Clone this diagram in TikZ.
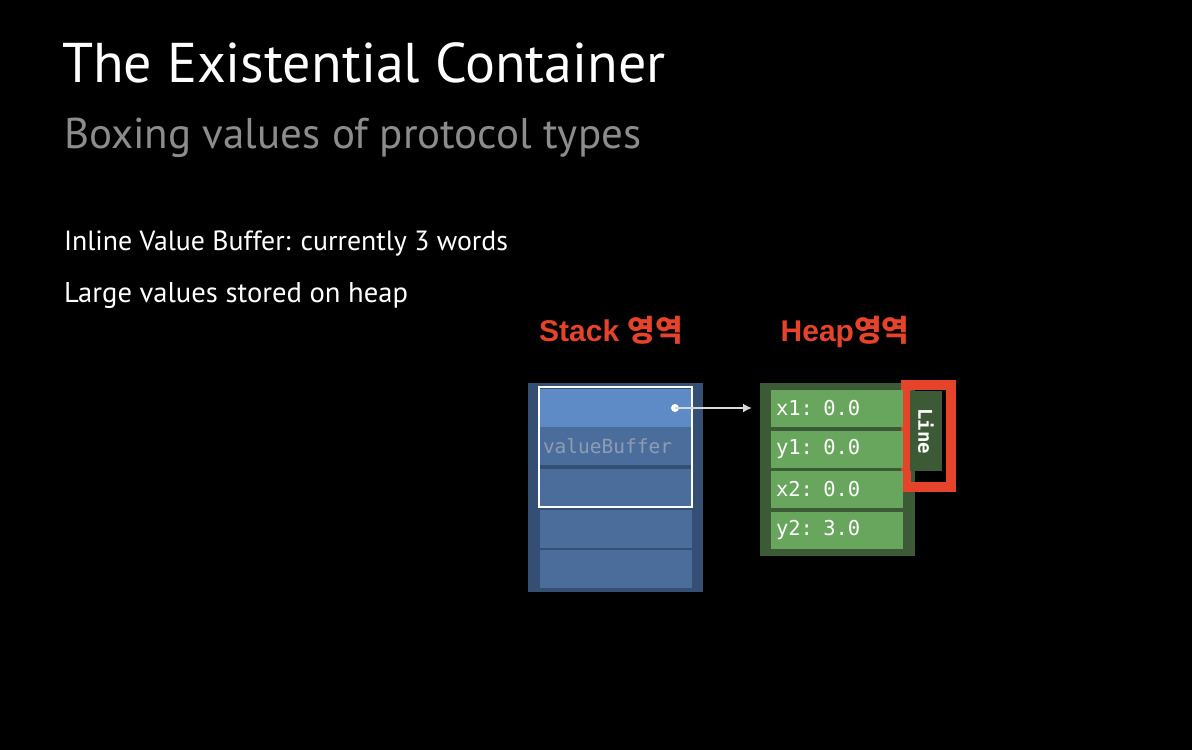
\documentclass[tikz,border=0pt]{standalone}
\usepackage{fontspec}
\setmainfont{PT Sans}
\setmonofont{DejaVu Sans Mono}
\newfontfamily\labelfont{Liberation Sans}
\newfontfamily\kofont{Noto Sans CJK KR}
\usetikzlibrary{positioning,arrows.meta}
\definecolor{stackdark}{HTML}{344E74}
\definecolor{stackrow}{HTML}{4A6D9C}
\definecolor{stacktop}{HTML}{5E8BC6}
\definecolor{heapdark}{HTML}{3B5A35}
\definecolor{heaprow}{HTML}{69A65D}
\definecolor{alertred}{HTML}{E5432A}
\definecolor{subgray}{HTML}{8C8C8C}
\definecolor{buffergray}{HTML}{8E9DB3}

\begin{document}
\begin{tikzpicture}[x=1pt, y=-1pt,
    every node/.style={inner sep=0pt, outer sep=0pt},
    slot/.style={rectangle, fill=stackrow, minimum width=152pt, minimum height=38pt},
    field/.style={rectangle, fill=heaprow, minimum width=132pt, minimum height=37pt,
        text width=122pt, align=left, text=white, font=\ttfamily\fontsize{20.5}{20.5}\selectfont},
    area/.style={text=alertred, font=\labelfont\bfseries\fontsize{30}{30}\selectfont, anchor=base},
    ptr/.style={-{Latex[length=9pt,width=9pt]}, line width=2pt, draw=black!15, shorten >=8pt}
]
\fill[black] (0,0) rectangle (1192,750);
\useasboundingbox (0,0) rectangle (1192,750);

% slide text
\node[anchor=base west, text=white, font=\fontsize{56}{56}\selectfont] (title) at (62,82)
    {The Existential Container};
\node[anchor=base west, text=subgray, font=\fontsize{43}{43}\selectfont] (subtitle) at (64,148)
    {Boxing values of protocol types};
\node[anchor=base west, text=white, font=\fontsize{27.8}{27.8}\selectfont] (lineA) at (64,250)
    {Inline Value Buffer: currently 3 words};
\node[anchor=base west, text=white, font=\fontsize{28.6}{28.6}\selectfont] (lineB) at (64,302)
    {Large values stored on heap};

% area labels
\node[area] (stacklabel) at (611,341) {Stack {\kofont 영역}};
\node[area] (heaplabel) at (845,341) {Heap{\kofont 영역}};

% stack
\node[rectangle, fill=stackdark, minimum width=175pt, minimum height=209pt] (stackbox) at (615.5,487.5) {};
\node[slot, fill=stacktop] (s1) at (616,407.5) {};
\node[slot, text width=146pt, align=left, text=buffergray,
      font=\ttfamily\fontsize{19.5}{19.5}\selectfont] (s2) at (616,446) {valueBuffer};
\node[slot] (s3) at (616,488) {};
\node[slot] (s4) at (616,529) {};
\node[slot] (s5) at (616,569) {};
\draw[white, line width=2pt] (539,387) rectangle (692,507);

% heap
\node[rectangle, fill=heapdark, minimum width=155pt, minimum height=173pt] (heapbox) at (837.5,469.5) {};
\draw[alertred, line width=10pt] (906,385) rectangle (951,487);
\node[field] (x1) at (837,408.5) {x1: 0.0};
\node[field] (y1) at (837,449.5) {y1: 0.0};
\node[field] (x2) at (837,489.5) {x2: 0.0};
\node[field] (y2) at (837,530.5) {y2: 3.0};
\node[rectangle, fill=heapdark, rotate=-90, minimum width=80pt, minimum height=32pt,
      text=white, font=\ttfamily\bfseries\fontsize{19}{19}\selectfont] (tab) at (926,431) {Line};

% pointer
\node[circle, fill=white, minimum size=8pt] (dot) at (675,408) {};
\draw[ptr] (dot.center) -- (heapbox.west |- dot);
\end{tikzpicture}
\end{document}
